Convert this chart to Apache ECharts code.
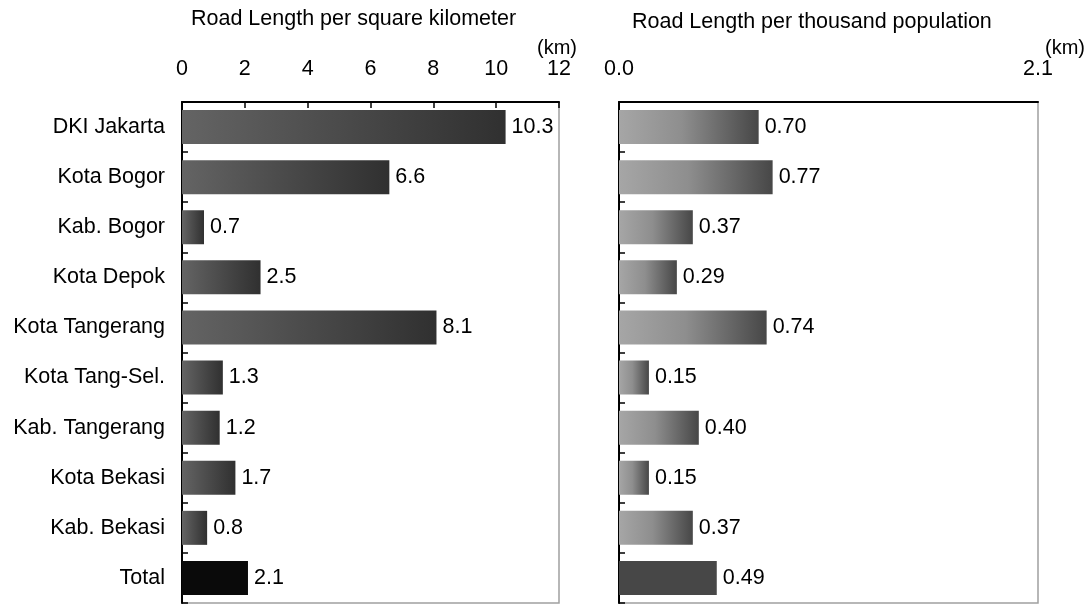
<!DOCTYPE html>
<html>
<head>
<meta charset="utf-8">
<script src="https://cdn.jsdelivr.net/npm/echarts@6/dist/echarts.min.js"></script>
<style>
html,body{margin:0;padding:0;background:#fff;}
#chart{width:1091px;height:604px;}
</style>
</head>
<body>
<div id="chart"></div>
<script>
const categories = ['DKI Jakarta','Kota Bogor','Kab. Bogor','Kota Depok','Kota Tangerang','Kota Tang-Sel.','Kab. Tangerang','Kota Bekasi','Kab. Bekasi','Total'];
const perSqKm = [10.3, 6.6, 0.7, 2.5, 8.1, 1.3, 1.2, 1.7, 0.8, 2.1];
const perThousandPop = [0.70, 0.77, 0.37, 0.29, 0.74, 0.15, 0.40, 0.15, 0.37, 0.49];
const leftTitle = 'Road Length per square kilometer';
const rightTitle = 'Road Length per thousand population';
const unitLabel = '(km)';
const leftAxisMax = 12, leftAxisStep = 2;
const rightAxisMax = 2.1, rightAxisStep = 2.1;

const FONT = 'Liberation Sans, Arial, sans-serif';
const FS = 21.5;
const chart = echarts.init(document.getElementById('chart'));

function leftGrad(){ return new echarts.graphic.LinearGradient(0,0,1,0,[{offset:0,color:'#646464'},{offset:1,color:'#303030'}]); }
function rightGrad(){ return new echarts.graphic.LinearGradient(0,0,1,0,[{offset:0,color:'#a6a6a6'},{offset:0.45,color:'#8e8e8e'},{offset:1,color:'#474747'}]); }

const totalIdx = categories.length - 1;
const leftData = perSqKm.map((v,i)=>({value:v,itemStyle:{color: i===totalIdx ? '#0a0a0a' : leftGrad()}}));
const rightData = perThousandPop.map((v,i)=>({value:v,itemStyle:{color: i===totalIdx ? '#474747' : rightGrad()}}));

const gridCommon = {top:102, bottom:1, show:true, borderColor:'#a0a0a0', borderWidth:1.5, backgroundColor:'#fff'};

chart.setOption({
  animation:false,
  backgroundColor:'#fff',
  textStyle:{fontFamily:FONT},
  title:[
    {text:leftTitle, left:191, top:8, padding:0, textStyle:{fontSize:FS, fontWeight:'normal', color:'#000', fontFamily:FONT}},
    {text:rightTitle, left:632, top:11, padding:0, textStyle:{fontSize:FS, fontWeight:'normal', color:'#000', fontFamily:FONT}}
  ],
  graphic:[
    {type:'text', left:537, top:38, style:{text:unitLabel, font:'20px '+FONT, fill:'#000'}},
    {type:'text', left:1045, top:38, style:{text:unitLabel, font:'20px '+FONT, fill:'#000'}}
  ],
  grid:[
    Object.assign({left:182, right:1091-559}, gridCommon),
    Object.assign({left:619, right:1091-1038}, gridCommon)
  ],
  xAxis:[
    {type:'value', gridIndex:0, position:'top', min:0, max:leftAxisMax, interval:leftAxisStep,
     axisLine:{show:true, lineStyle:{color:'#000', width:2}},
     axisTick:{show:true, inside:true, length:6, lineStyle:{color:'#000', width:1.5}},
     splitLine:{show:false},
     axisLabel:{color:'#000', fontSize:FS, fontFamily:FONT, margin:22}},
    {type:'value', gridIndex:1, position:'top', min:0, max:rightAxisMax, interval:rightAxisStep,
     axisLine:{show:true, lineStyle:{color:'#000', width:2}},
     axisTick:{show:false},
     splitLine:{show:false},
     axisLabel:{color:'#000', fontSize:FS, fontFamily:FONT, margin:22, formatter:v=>v.toFixed(1)}}
  ],
  yAxis:[
    {type:'category', gridIndex:0, data:categories, inverse:true,
     axisLine:{show:true, lineStyle:{color:'#000', width:2}},
     axisTick:{show:true, inside:true, length:6, lineStyle:{color:'#000', width:1.5}},
     axisLabel:{color:'#000', fontSize:FS, fontFamily:FONT, margin:17}},
    {type:'category', gridIndex:1, data:categories, inverse:true,
     axisLine:{show:true, lineStyle:{color:'#000', width:2}},
     axisTick:{show:true, inside:true, length:6, lineStyle:{color:'#000', width:1.5}},
     axisLabel:{show:false}}
  ],
  series:[
    {type:'bar', xAxisIndex:0, yAxisIndex:0, data:leftData, barWidth:34,
     label:{show:true, position:'right', distance:6, color:'#000', fontSize:FS, fontFamily:FONT, formatter:p=>p.value.toFixed(1)}},
    {type:'bar', xAxisIndex:1, yAxisIndex:1, data:rightData, barWidth:34,
     label:{show:true, position:'right', distance:6, color:'#000', fontSize:FS, fontFamily:FONT, formatter:p=>p.value.toFixed(2)}}
  ]
});
</script>
</body>
</html>
